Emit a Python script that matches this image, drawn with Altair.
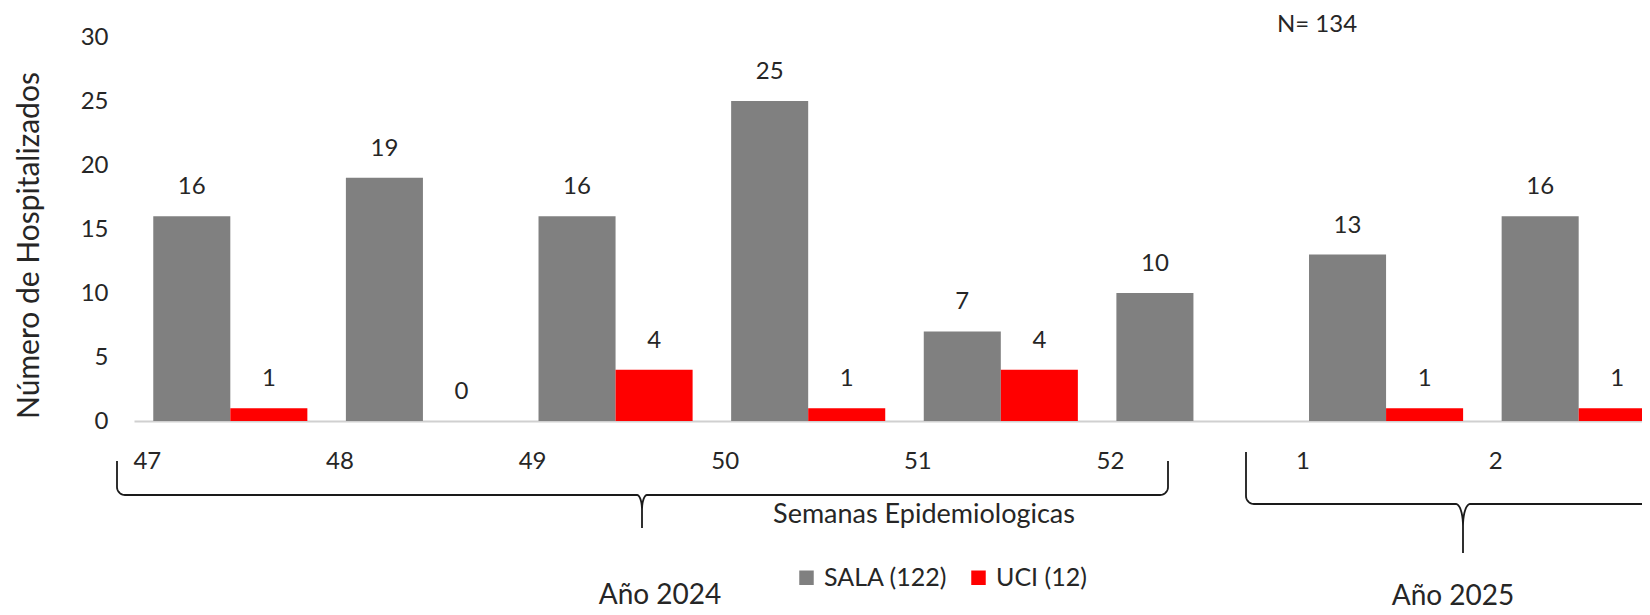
import math
import altair as alt
import pandas as pd

# ---------------- data ----------------
semanas = ["47", "48", "49", "50", "51", "52", "1", "2"]
sala = [16, 19, 16, 25, 7, 10, 13, 16]
uci = [1, 0, 4, 1, 4, None, 1, 1]
series = ["SALA (122)", "UCI (12)"]
colors = ["#808080", "#FF0000"]
y_ticks = [0, 5, 10, 15, 20, 25, 30]

rows = []
for s, a, b in zip(semanas, sala, uci):
    rows.append({"semana": s, "serie": series[0], "valor": a})
    if b is not None:
        rows.append({"semana": s, "serie": series[1], "valor": b})
df = pd.DataFrame(rows)

# ---------------- layout ----------------
FONT = "Lato"
TXT = "#262626"
PLOT_W, PLOT_H = 1508, 384
BAND_RANGE = 1541

x_enc = alt.X(
    "semana:N",
    sort=semanas,
    scale=alt.Scale(domain=semanas, range=[0, BAND_RANGE], paddingInner=0.2, paddingOuter=0.1),
    axis=alt.Axis(
        title=None, labelAngle=0, labelOffset=-83, ticks=False, labelPadding=28,
        domainColor="#d0d0d0", domainWidth=2, labelFont=FONT, labelFontSize=24,
        labelColor=TXT,
    ),
)
y_enc = alt.Y(
    "valor:Q",
    scale=alt.Scale(domain=[0, 30], nice=False),
    axis=alt.Axis(
        values=y_ticks, grid=False, domain=False, ticks=False, labelPadding=26,
        labelFont=FONT, labelFontSize=24, labelColor=TXT,
        title="Número de Hospitalizados", titleFont=FONT, titleFontSize=30,
        titleFontWeight="normal", titleColor=TXT, titleAngle=270,
        titleX=-105, titleY=208, titleAlign="center", titleBaseline="middle",
    ),
)
xoff = alt.XOffset("serie:N", sort=series,
                   scale=alt.Scale(domain=series, paddingInner=0, paddingOuter=0))

base = alt.Chart(df)
bars = base.mark_bar(clip=True).encode(
    x=x_enc, y=y_enc, xOffset=xoff,
    color=alt.Color(
        "serie:N", sort=series, scale=alt.Scale(domain=series, range=colors),
        legend=alt.Legend(
            title=None, orient="none", legendX=660, legendY=528, direction="horizontal",
            symbolType="square", symbolSize=210, symbolStrokeWidth=0,
            labelFont=FONT, labelFontSize=25, labelColor=TXT, labelOffset=5,
            columnPadding=18, padding=0,
        ),
    ),
)
labels = base.mark_text(clip=True, dy=-29, baseline="middle", font=FONT,
                        fontSize=24, color=TXT).encode(
    x=x_enc, y=y_enc, xOffset=xoff, text="valor:Q",
)
main = alt.layer(bars, labels)

# ---------------- curly braces (annotation geometry) ----------------
def brace_points(x0, x1, xm, ytop, yh, ytip, r_end, rx_mid, ry_mid, n=10):
    pts = [(x0, ytop)]
    cx, cy = x0 + r_end, yh - r_end
    for i in range(n + 1):
        t = math.pi - (math.pi / 2) * i / n
        pts.append((cx + r_end * math.cos(t), cy + r_end * math.sin(t)))
    cx, cy = xm - rx_mid, yh + ry_mid
    for i in range(n + 1):
        t = -math.pi / 2 + (math.pi / 2) * i / n
        pts.append((cx + rx_mid * math.cos(t), cy + ry_mid * math.sin(t)))
    pts.append((xm, ytip))
    cx, cy = xm + rx_mid, yh + ry_mid
    for i in range(n + 1):
        t = math.pi + (math.pi / 2) * i / n
        pts.append((cx + rx_mid * math.cos(t), cy + ry_mid * math.sin(t)))
    cx, cy = x1 - r_end, yh - r_end
    for i in range(n + 1):
        t = math.pi / 2 - (math.pi / 2) * i / n
        pts.append((cx + r_end * math.cos(t), cy + r_end * math.sin(t)))
    pts.append((x1, ytop))
    return pts

brace_specs = {
    "2024": dict(x0=-17, x1=1034, xm=508, ytop=424, yh=458, ytip=491, r_end=8, rx_mid=5, ry_mid=15),
    "2025": dict(x0=1112, x1=1546, xm=1329, ytop=415, yh=467, ytip=516, r_end=8, rx_mid=7, ry_mid=22),
}
brows = []
for name, spec in brace_specs.items():
    for i, (px, py) in enumerate(brace_points(**spec)):
        brows.append({"brace": name, "ord": i, "px": px, "py": py})
braces = alt.Chart(pd.DataFrame(brows)).mark_line(color="#1a1a1a", strokeWidth=1.8).encode(
    x=alt.X("px:Q", scale=None, axis=None),
    y=alt.Y("py:Q", scale=None, axis=None),
    detail="brace:N",
    order="ord:Q",
)

# ---------------- text annotations ----------------
one = pd.DataFrame({"k": [0]})
def note(text, px, py, size=24, baseline="middle"):
    return alt.Chart(one).mark_text(text=text, font=FONT, fontSize=size, color=TXT,
                                    baseline=baseline, align="center").encode(
        x=alt.value(px), y=alt.value(py))

notes = [
    note("N= 134", 1183, -12),
    note("Semanas Epidemiologicas", 790, 478, 27),
    note("Año 2024", 526, 567, 28, "alphabetic"),
    note("Año 2025", 1319, 568, 28, "alphabetic"),
]

chart = alt.layer(main, braces, *notes).resolve_scale(
    x="independent", y="independent"
).properties(
    width=PLOT_W, height=PLOT_H,
    autosize=alt.AutoSizeParams(type="none"),
    padding={"left": 126, "top": 29, "right": 0, "bottom": 186},
).configure_view(stroke=None)

chart.save("out.html", embed_options={"renderer": "svg", "actions": False})
